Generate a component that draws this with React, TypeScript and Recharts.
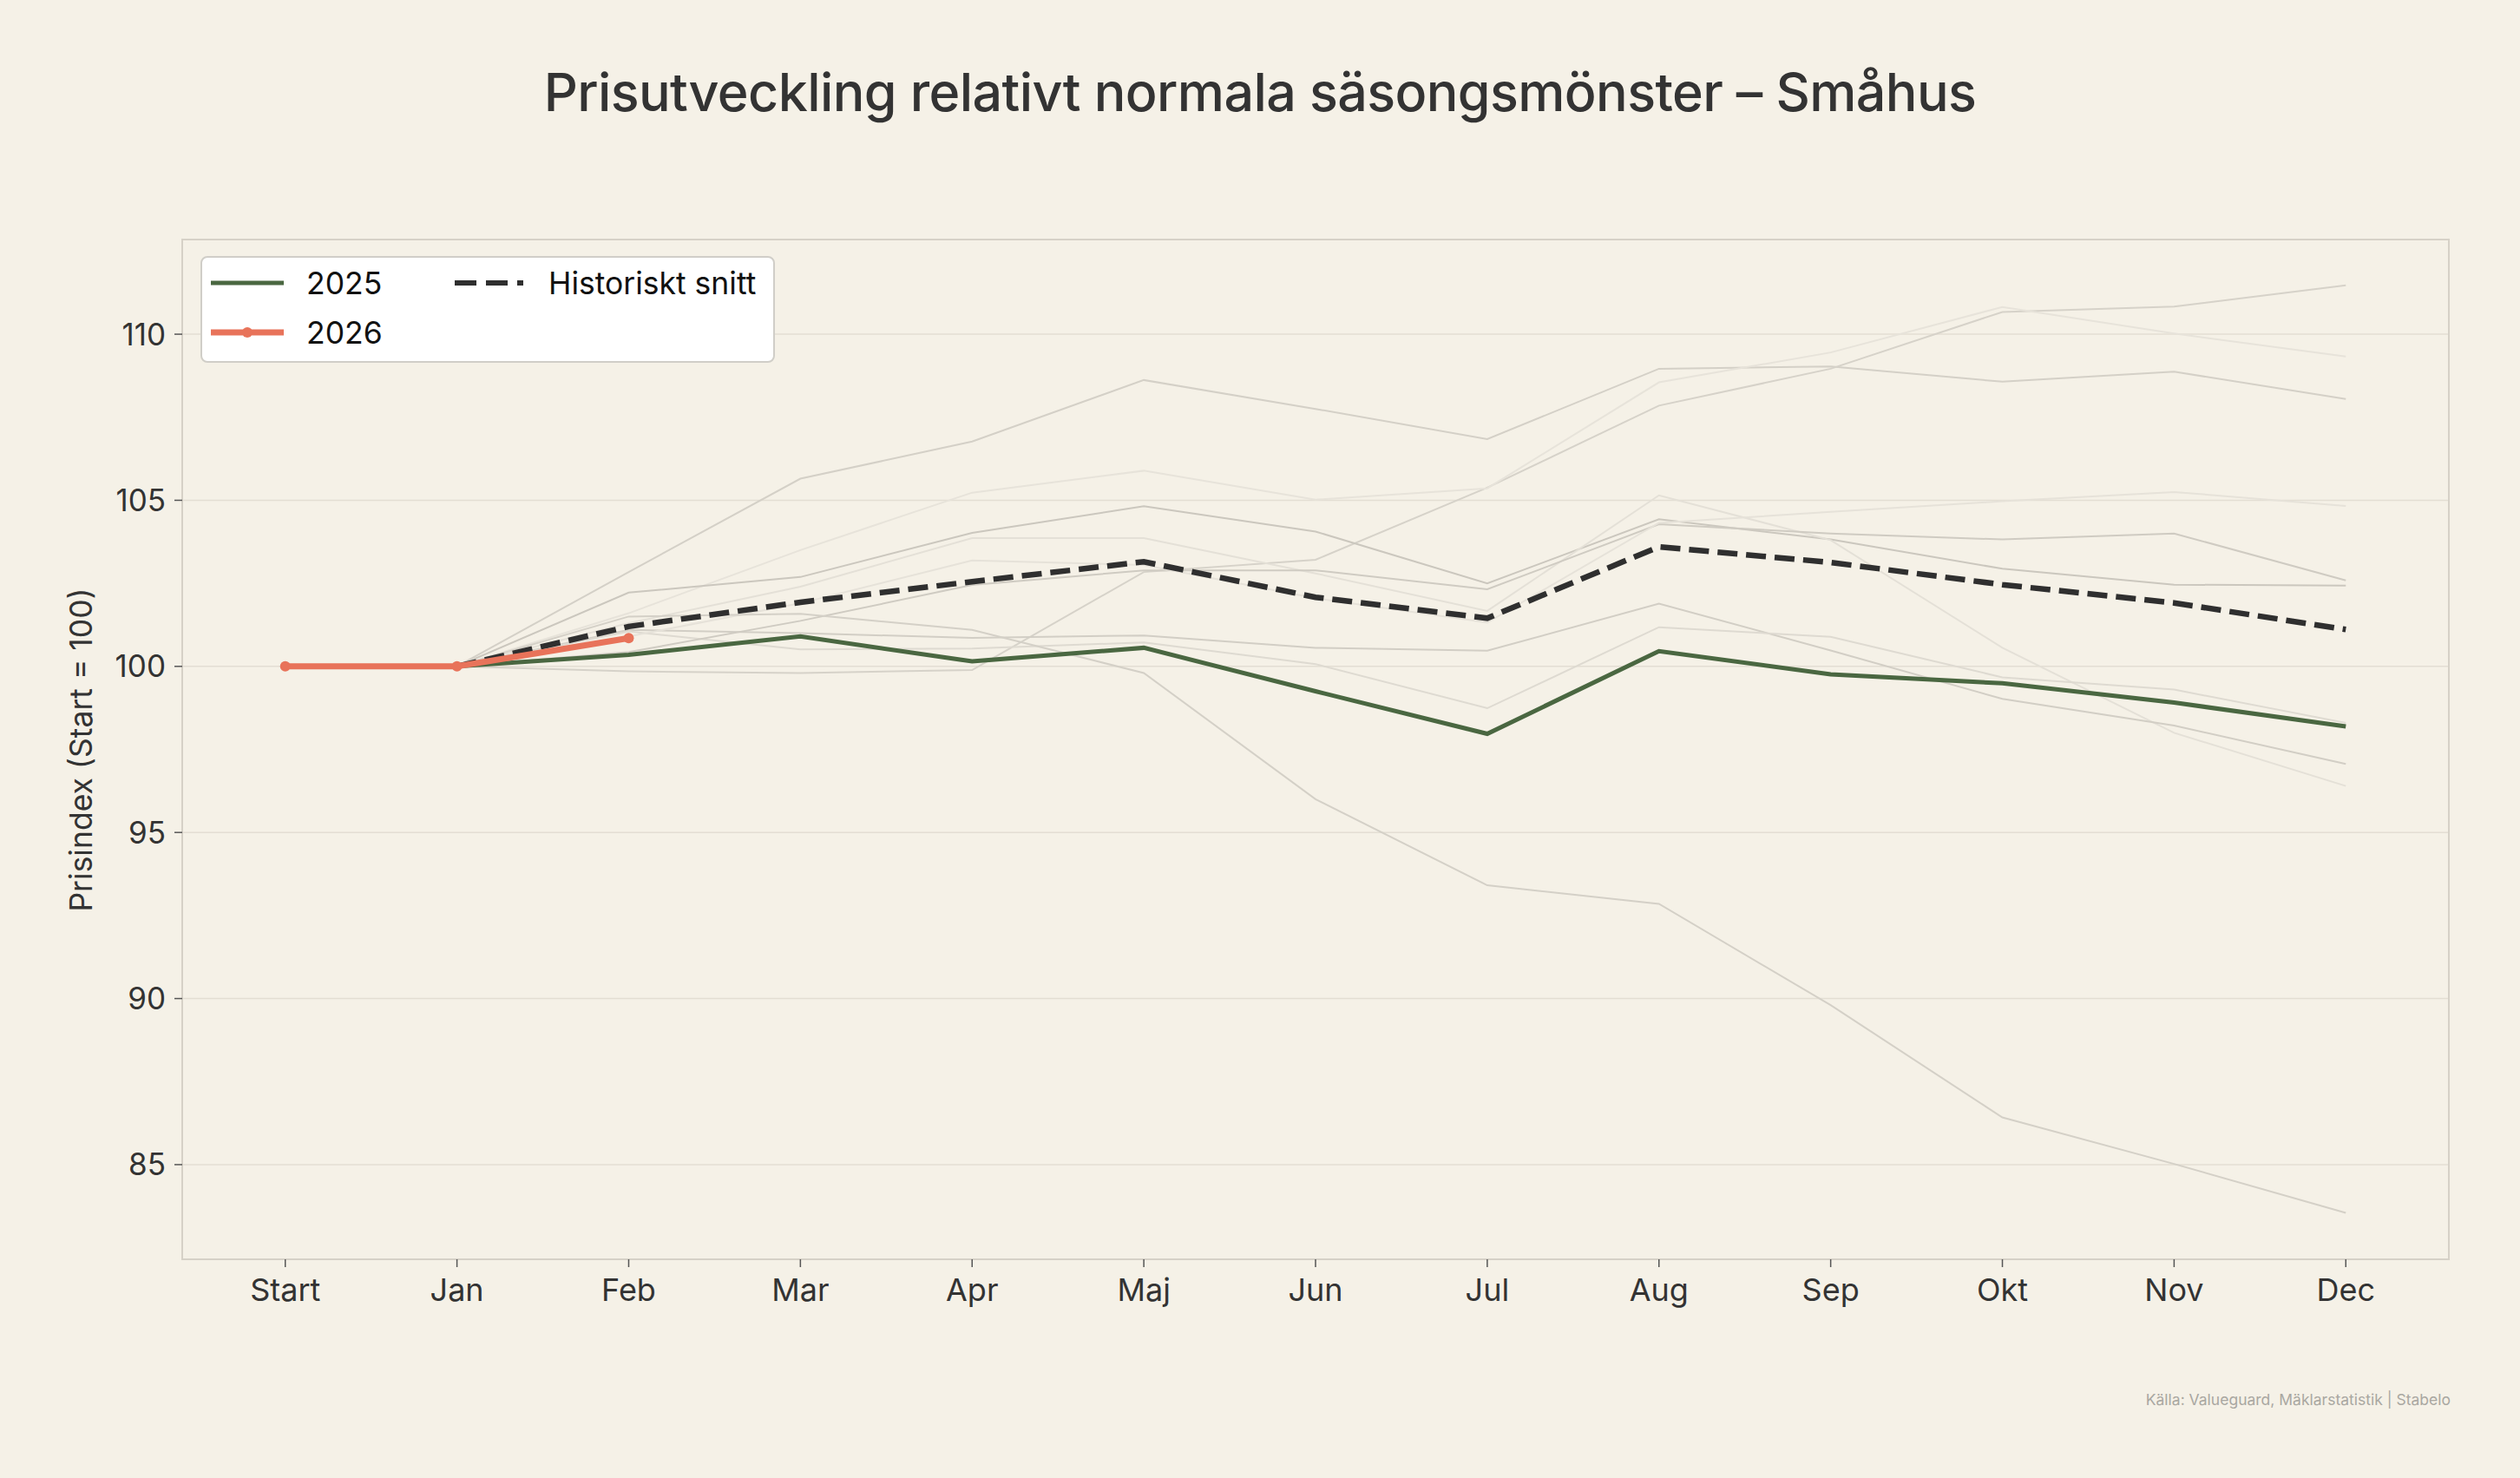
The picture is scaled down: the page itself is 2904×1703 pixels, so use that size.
import { CartesianGrid, Line, LineChart, ReferenceArea, XAxis, YAxis } from "recharts";

const W = 2904;
const H = 1703;

const months = ["Start", "Jan", "Feb", "Mar", "Apr", "Maj", "Jun", "Jul", "Aug", "Sep", "Okt", "Nov", "Dec"];
const yTicks = [85, 90, 95, 100, 105, 110];

// tidigare år, Start saknas (null)
const histA = [null, 100, 102.84, 105.65, 106.77, 108.62, 107.75, 106.84, 108.96, 109.03, 108.57, 108.87, 108.05];
const histB = [null, 100, 99.85, 99.8, 99.89, 102.84, 103.21, 105.38, 107.85, 108.96, 110.67, 110.83, 111.47];
const histC = [null, 100, 101.6, 103.5, 105.23, 105.89, 105.02, 105.36, 108.55, 109.45, 110.82, 110.02, 109.33];
const histD = [null, 100, 102.22, 102.69, 104.02, 104.82, 104.06, 102.5, 104.43, 103.82, 102.94, 102.46, 102.43];
const histE = [null, 100, 101.3, 102.4, 103.86, 103.86, 102.8, 101.67, 105.15, 103.8, 100.56, 98.0, 96.4];
const histF = [null, 100, 101.1, 101.0, 100.86, 100.93, 100.56, 100.47, 101.89, 100.48, 99.02, 98.22, 97.06];
const histG = [null, 100, 101.05, 100.51, 100.54, 100.72, 100.07, 98.74, 101.18, 100.89, 99.67, 99.3, 98.3];
const histH = [null, 100, 100.43, 101.37, 102.45, 102.89, 102.89, 102.32, 104.28, 104.0, 103.82, 104.0, 102.59];
const histI = [null, 100, 100.9, 101.9, 103.19, 103.05, 102.05, 101.32, 104.32, 104.65, 104.97, 105.25, 104.83];
const histJ = [null, 100, 101.5, 101.58, 101.1, 99.8, 96.0, 93.41, 92.85, 89.8, 86.42, 85.02, 83.55];

const y2025 = [null, 100, 100.35, 100.9, 100.15, 100.56, 99.25, 97.97, 100.46, 99.76, 99.49, 98.91, 98.19];
const y2026 = [100, 100, 100.85, null, null, null, null, null, null, null, null, null, null];
const snitt = [null, 100, 101.2, 101.93, 102.55, 103.15, 102.08, 101.45, 103.6, 103.13, 102.46, 101.91, 101.11];

const history = [
  { key: "histA", values: histA, color: "#d4d0c7" },
  { key: "histB", values: histB, color: "#d6d2c9" },
  { key: "histC", values: histC, color: "#e7e3da" },
  { key: "histD", values: histD, color: "#cbc7be" },
  { key: "histE", values: histE, color: "#e4e0d7" },
  { key: "histF", values: histF, color: "#d2cec5" },
  { key: "histG", values: histG, color: "#dedad1" },
  { key: "histH", values: histH, color: "#cfcbc2" },
  { key: "histI", values: histI, color: "#e6e2d9" },
  { key: "histJ", values: histJ, color: "#d4d0c7" },
];

const colors = {
  bg: "#f5f1e7",
  grid: "#e3ded3",
  frame: "#d6d1c7",
  ink: "#333333",
  green: "#4a6741",
  orange: "#e8735a",
  dashed: "#2f2f2f",
  muted: "#a9a7a1",
};

const font = "Inter, 'Noto Sans', sans-serif";

const data = months.map((m, i) => {
  const row: Record<string, number | null | string> = { x: i, month: m };
  history.forEach((h) => {
    row[h.key] = h.values[i];
  });
  row.y2025 = y2025[i];
  row.y2026 = y2026[i];
  row.snitt = snitt[i];
  return row;
});

const X_DOMAIN: [number, number] = [-0.6, 12.6];
const Y_DOMAIN: [number, number] = [82.15, 112.85];

const LegendBox = () => (
  <div
    style={{
      position: "absolute",
      left: 231,
      top: 295,
      width: 662,
      height: 123,
      background: "#ffffff",
      border: "2px solid #d0cec8",
      borderRadius: 8,
      boxSizing: "border-box",
      fontFamily: font,
      fontSize: 35.5,
      color: "#111",
    }}
  >
    <svg width={662} height={123} style={{ position: "absolute", left: -2, top: -2 }}>
      <line x1={12} y1={31} x2={96} y2={31} stroke={colors.green} strokeWidth={5} />
      <line x1={12} y1={88} x2={96} y2={88} stroke={colors.orange} strokeWidth={7} />
      <circle cx={54} cy={88} r={6} fill={colors.orange} />
      <line x1={293} y1={31} x2={372} y2={31} stroke={colors.dashed} strokeWidth={6} strokeDasharray="25 11" />
    </svg>
    <div style={{ position: "absolute", left: 120, top: 8 }}>2025</div>
    <div style={{ position: "absolute", left: 120, top: 65 }}>2026</div>
    <div style={{ position: "absolute", left: 399, top: 8 }}>Historiskt snitt</div>
  </div>
);

export default function App() {
  return (
    <div
      style={{
        position: "absolute",
        left: 0,
        top: 0,
        width: W,
        height: H,
        background: colors.bg,
        overflow: "hidden",
        fontFamily: font,
      }}
    >
      <div
        style={{
          position: "absolute",
          left: 0,
          top: 69,
          width: W,
          textAlign: "center",
          fontSize: 61,
          color: colors.ink,
          fontWeight: 500,
          letterSpacing: -0.6,
        }}
      >
        Prisutveckling relativt normala säsongsmönster – Småhus
      </div>

      <LineChart
        width={W}
        height={H}
        data={data}
        margin={{ top: 276, right: 82, left: 120, bottom: 192 }}
        style={{ position: "absolute", left: 0, top: 0 }}
      >
        <CartesianGrid stroke={colors.grid} strokeWidth={1.5} vertical={false} />
        <ReferenceArea
          x1={X_DOMAIN[0]}
          x2={X_DOMAIN[1]}
          y1={Y_DOMAIN[0]}
          y2={Y_DOMAIN[1]}
          fill="none"
          stroke={colors.frame}
          strokeWidth={2}
          ifOverflow="extendDomain"
        />
        <XAxis
          dataKey="x"
          type="number"
          domain={X_DOMAIN}
          ticks={months.map((_, i) => i)}
          tickFormatter={(v) => months[v] ?? ""}
          allowDataOverflow
          axisLine={false}
          tickLine={{ stroke: "#555", strokeWidth: 1.5 }}
          tickSize={9}
          tickMargin={13}
          height={60}
          tick={{ fill: colors.ink, fontSize: 36, fontFamily: font }}
        />
        <YAxis
          type="number"
          domain={Y_DOMAIN}
          ticks={yTicks}
          allowDataOverflow
          axisLine={false}
          tickLine={{ stroke: "#555", strokeWidth: 1.5 }}
          tickSize={9}
          tickMargin={10}
          width={90}
          tick={{ fill: colors.ink, fontSize: 35, fontFamily: font }}
        />
        {history.map((h) => (
          <Line
            key={h.key}
            dataKey={h.key}
            type="linear"
            stroke={h.color}
            strokeWidth={2}
            dot={false}
            activeDot={false}
            isAnimationActive={false}
          />
        ))}
        <Line
          dataKey="y2025"
          name="2025"
          type="linear"
          stroke={colors.green}
          strokeWidth={5}
          dot={false}
          activeDot={false}
          isAnimationActive={false}
        />
        <Line
          dataKey="snitt"
          name="Historiskt snitt"
          type="linear"
          stroke={colors.dashed}
          strokeWidth={6.5}
          strokeDasharray="23 10"
          dot={false}
          activeDot={false}
          isAnimationActive={false}
        />
        <Line
          dataKey="y2026"
          name="2026"
          type="linear"
          stroke={colors.orange}
          strokeWidth={7}
          dot={{ r: 6, fill: colors.orange, stroke: colors.orange, strokeWidth: 0 }}
          activeDot={false}
          isAnimationActive={false}
        />
      </LineChart>

      <div
        style={{
          position: "absolute",
          left: 93,
          top: 864,
          transform: "translate(-50%, -50%) rotate(-90deg)",
          whiteSpace: "nowrap",
          fontSize: 35.5,
          color: colors.ink,
        }}
      >
        Prisindex (Start = 100)
      </div>

      <LegendBox />

      <div
        style={{
          position: "absolute",
          right: 80,
          top: 1602,
          fontSize: 17.5,
          color: colors.muted,
        }}
      >
        Källa: Valueguard, Mäklarstatistik | Stabelo
      </div>
    </div>
  );
}
